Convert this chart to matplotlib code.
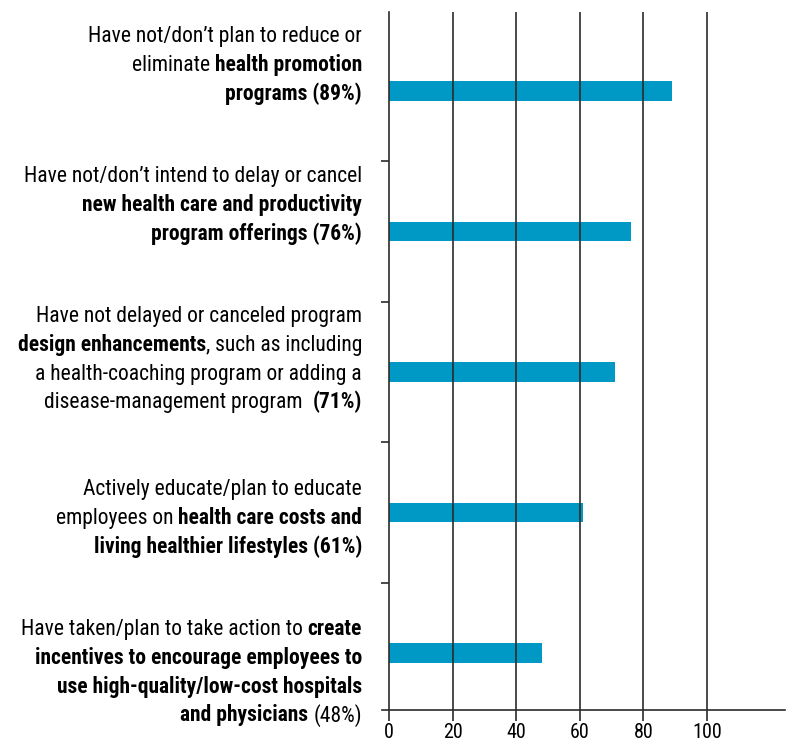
import matplotlib
matplotlib.use("Agg")
import matplotlib.pyplot as plt
from matplotlib import font_manager

# label lines, each line is a list of (text, bold?) pieces
labels = [
    [[("Have not/don\u2019t plan to reduce or", False)],
     [("eliminate ", False), ("health promotion", True)],
     [("programs (89%)", True)]],
    [[("Have not/don\u2019t intend to delay or cancel", False)],
     [("new health care and productivity", True)],
     [("program offerings (76%)", True)]],
    [[("Have not delayed or canceled program", False)],
     [("design enhancements", True), (", such as including", False)],
     [("a health-coaching program or adding a", False)],
     [("disease-management program  ", False), ("(71%)", True)]],
    [[("Actively educate/plan to educate", False)],
     [("employees on ", False), ("health care costs and", True)],
     [("living healthier lifestyles (61%)", True)]],
    [[("Have taken/plan to take action to ", False), ("create", True)],
     [("incentives to encourage employees to", True)],
     [("use high-quality/low-cost hospitals", True)],
     [("and physicians", True), (" (48%)", False)]],
]
values = [89, 76, 71, 61, 48]
xticks = [0, 20, 40, 60, 80, 100]

W, H = 791, 746
bar_color = "#0099c6"
line_color = "#2b2b2b"

# pick the narrowest font we can find
installed = {(f.name, f.stretch) for f in font_manager.fontManager.ttflist}
names = {f.name for f in font_manager.fontManager.ttflist}
stretch = "normal"
if "Liberation Sans Narrow" in names:
    fam = ["Liberation Sans Narrow", "DejaVu Sans"]
elif "Roboto Condensed" in names:
    fam = ["Roboto Condensed", "DejaVu Sans"]
elif ("DejaVu Sans", "condensed") in installed or ("DejaVu Sans", "semi-condensed") in installed:
    fam = ["DejaVu Sans"]
    stretch = "condensed"
elif "Roboto" in names:
    fam = ["Roboto", "DejaVu Sans"]
else:
    fam = ["DejaVu Sans"]

fig = plt.figure(figsize=(W / 100, H / 100), dpi=100)
ax = fig.add_axes([382 / W, 36 / H, 403 / W, 698 / H])

ypos = list(range(len(values)))
ax.barh(ypos, values, height=0.14, color=bar_color, zorder=2)
ax.set_xlim(-2.2, 124.5)
ax.set_ylim(4.406, -0.562)

# vertical grid lines drawn on top of the bars
for t in xticks[1:]:
    ax.axvline(t, color=line_color, lw=1.2, zorder=3)

for s in ["top", "right"]:
    ax.spines[s].set_visible(False)
ax.spines["left"].set_position(("data", 0))
ax.spines["left"].set_zorder(3)
for s in ["left", "bottom"]:
    ax.spines[s].set_color(line_color)
    ax.spines[s].set_linewidth(1.2)

renderer = fig.canvas.get_renderer()


def text_width(s, bold, size):
    t = fig.text(0, 0, s, fontsize=size, family=fam, fontstretch=stretch,
                 fontweight="bold" if bold else "normal")
    w = t.get_window_extent(renderer).width
    t.remove()
    return w


# size the label font so a reference line has about the same width as in the source
ref_w = text_width("Have not/don\u2019t intend to delay or cancel", False, 20)
fs = min(19.0, 20 * 338 / ref_w)
tick_fs = 14.5

ax.set_xticks(xticks)
ax.set_xticklabels([str(t) for t in xticks], family=fam, fontsize=tick_fs,
                   fontstretch=stretch)
ax.tick_params(axis="x", direction="out", length=8, width=1.2,
               color=line_color, pad=1)
ax.set_yticks([i + 0.5 for i in ypos[:-1]])
ax.set_yticklabels([])
ax.tick_params(axis="y", direction="out", length=6, width=1.2, color=line_color)

# category labels, mixed regular/bold, right aligned
space_w = text_width("x x", False, fs) - text_width("xx", False, fs)
right_x = 362
first_baseline = [42, 182, 322, 495, 635]
line_gap = 28.8

for k, lines in enumerate(labels):
    for j, pieces in enumerate(lines):
        base = first_baseline[k] + j * line_gap
        x = right_x
        for txt, bold in reversed(pieces):
            trail = len(txt) - len(txt.rstrip(" "))
            lead = len(txt) - len(txt.lstrip(" "))
            core = txt.strip(" ")
            x -= trail * space_w
            fig.text(x / W, 1 - base / H, core, ha="right", va="baseline",
                     fontsize=fs, family=fam, fontstretch=stretch,
                     fontweight="bold" if bold else "normal")
            x -= text_width(core, bold, fs)
            x -= lead * space_w

fig.savefig("out.png", dpi=100)
